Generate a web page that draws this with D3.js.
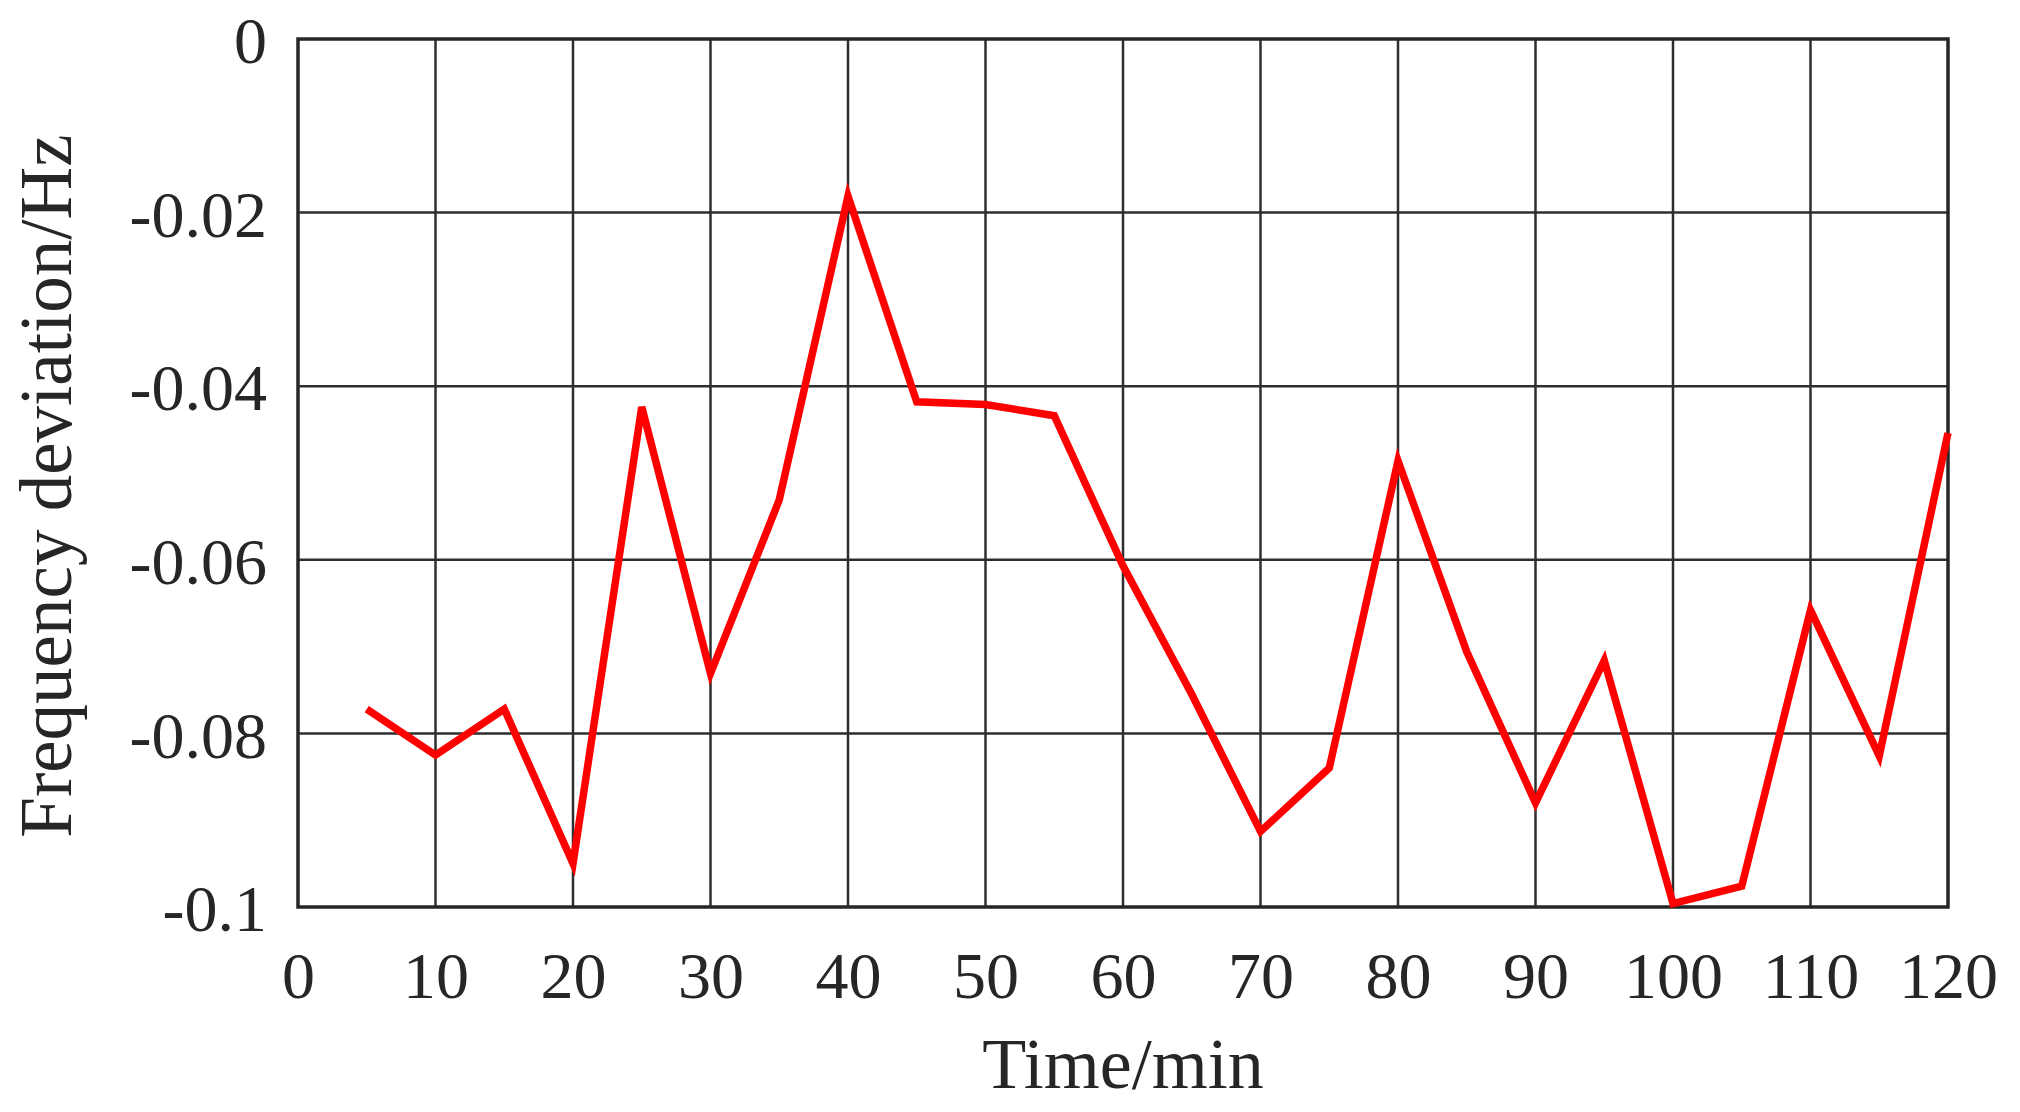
<!DOCTYPE html>
<html>
<head>
<meta charset="utf-8">
<script src="https://cdn.jsdelivr.net/npm/d3@7"></script>
<style>
  html, body { margin: 0; padding: 0; background: #fff; }
  svg { display: block; }
  text { font-family: "Liberation Serif", "Times New Roman", serif; fill: #262626; }
</style>
</head>
<body>
<svg id="chart" width="2020" height="1112"></svg>
<script>
// ---- data ----
const times = [5, 10, 15, 20, 25, 30, 35, 40, 45, 50, 55, 60, 65, 70, 75, 80, 85, 90, 95, 100, 105, 110, 115, 120];
const freqDeviation = [-0.0772, -0.0825, -0.0772, -0.0950, -0.0424, -0.0731, -0.0531, -0.0181, -0.0418, -0.0421, -0.0434, -0.0607,
                       -0.0755, -0.0913, -0.0840, -0.0486, -0.0706, -0.0880, -0.0716, -0.0996, -0.0976, -0.0658, -0.0826, -0.0454];
const xTicks = [0, 10, 20, 30, 40, 50, 60, 70, 80, 90, 100, 110, 120];
const yTicks = [0, -0.02, -0.04, -0.06, -0.08, -0.1];
const yTickLabels = ["0", "-0.02", "-0.04", "-0.06", "-0.08", "-0.1"];
const xTitle = "Time/min";
const yTitle = "Frequency deviation/Hz";

// ---- layout ----
const mLeft = 298, mRight = 1948, mTop = 39, mBottom = 907;
const svg = d3.select("#chart");

const x = d3.scaleLinear().domain([0, 120]).range([mLeft, mRight]);
const y = d3.scaleLinear().domain([-0.1, 0]).range([mBottom, mTop]);

// grid lines
const grid = svg.append("g");
grid.selectAll("line.v").data(xTicks.slice(1, -1)).enter().append("line")
  .attr("class", "v")
  .attr("x1", d => x(d)).attr("x2", d => x(d))
  .attr("y1", mTop).attr("y2", mBottom)
  .attr("stroke", "#2e2e2e").attr("stroke-width", 2.5);
grid.selectAll("line.h").data(yTicks.slice(1, -1)).enter().append("line")
  .attr("class", "h")
  .attr("x1", mLeft).attr("x2", mRight)
  .attr("y1", d => y(d)).attr("y2", d => y(d))
  .attr("stroke", "#2e2e2e").attr("stroke-width", 2.5);

// frame
svg.append("rect")
  .attr("x", mLeft).attr("y", mTop)
  .attr("width", mRight - mLeft).attr("height", mBottom - mTop)
  .attr("fill", "none").attr("stroke", "#262626").attr("stroke-width", 3.5);

// x axis labels
const xAxis = d3.axisBottom(x).tickValues(xTicks).tickSize(0).tickPadding(0).tickFormat(d3.format("d"));
const gx = svg.append("g").attr("transform", `translate(0,${mBottom})`).call(xAxis);
gx.select(".domain").remove();
gx.selectAll("text")
  .attr("font-size", 66).attr("fill", "#262626")
  .attr("dy", null).attr("y", 91)
  .style("font-family", "'Liberation Serif', 'Times New Roman', serif");

// y axis labels
const yAxis = d3.axisLeft(y).tickValues(yTicks).tickSize(0).tickPadding(0)
  .tickFormat((d, i) => yTickLabels[i]);
const gy = svg.append("g").attr("transform", `translate(${mLeft - 31},0)`).call(yAxis);
gy.select(".domain").remove();
gy.selectAll("text")
  .attr("font-size", 66).attr("fill", "#262626")
  .attr("dy", "0.36em")
  .style("font-family", "'Liberation Serif', 'Times New Roman', serif");

// data line
const line = d3.line().x((d, i) => x(times[i])).y(d => y(d));
svg.append("path")
  .datum(freqDeviation)
  .attr("d", line)
  .attr("fill", "none")
  .attr("stroke", "#ff0000")
  .attr("stroke-width", 7.5)
  .attr("stroke-linejoin", "miter");

// axis titles
svg.append("text")
  .attr("x", (mLeft + mRight) / 2).attr("y", 1088)
  .attr("text-anchor", "middle").attr("font-size", 72)
  .text(xTitle);
svg.append("text")
  .attr("transform", `translate(71,486) rotate(-90)`)
  .attr("text-anchor", "middle").attr("font-size", 73)
  .text(yTitle);
</script>
</body>
</html>
